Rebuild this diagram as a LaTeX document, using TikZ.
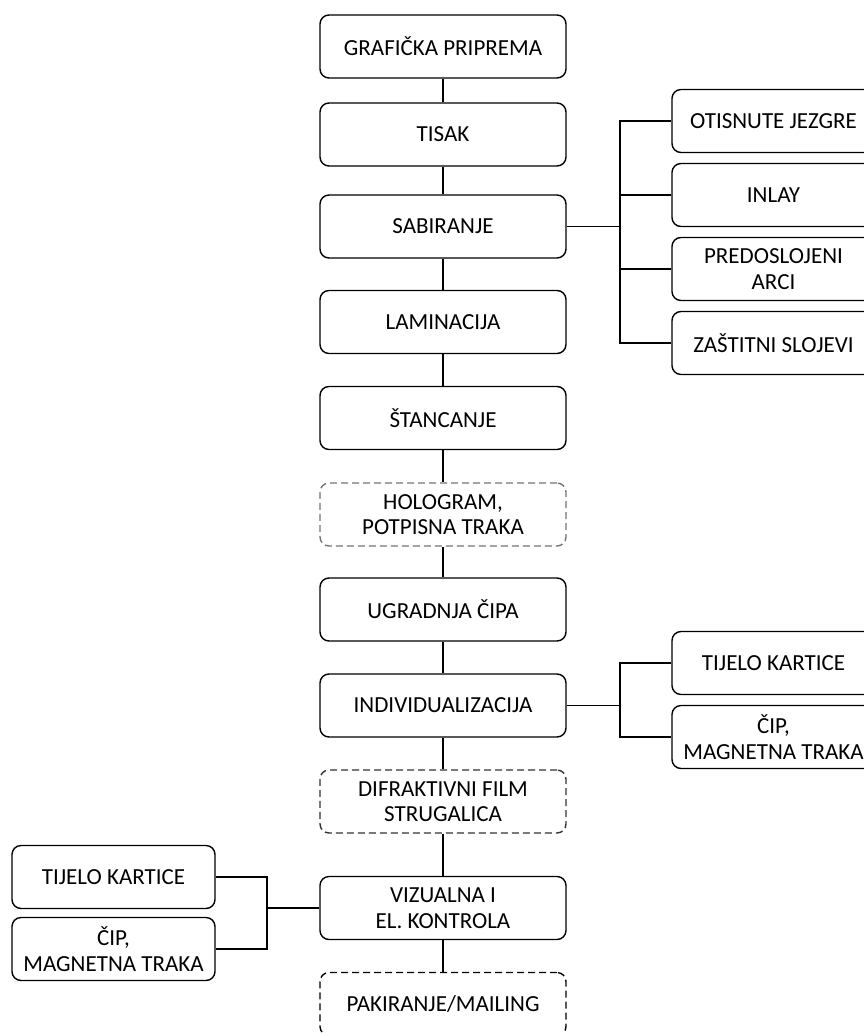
\documentclass[tikz,border=0pt]{standalone}
\usepackage{fontspec}
\setmainfont{Carlito}
\begin{document}
\begin{tikzpicture}[x=1pt,y=-1pt,
  box/.style={draw=black, line width=1.4pt, rounded corners=9pt, minimum width=246pt, minimum height=63pt, align=center, inner sep=0pt, font=\fontsize{23}{25.5}\selectfont, text=black},
  sidebox/.style={box, minimum width=203pt},
  dbox/.style={box, dash pattern=on 7pt off 4pt},
  link/.style={line width=1.4pt, draw=black}]
\useasboundingbox (0,0) rectangle (864,1033);
\clip (0,0) rectangle (864,1033);
% main column
\node[box] (gp) at (443,46.5) {GRAFIČKA PRIPREMA};
\node[box] (ti) at (443,134.5) {TISAK};
\node[box] (sa) at (443,226.5) {SABIRANJE};
\node[box] (la) at (443,322) {LAMINACIJA};
\node[box] (st) at (443,418) {ŠTANCANJE};
\node[dbox, draw=black!55] (ho) at (443,514.5) {HOLOGRAM,\\POTPISNA TRAKA};
\node[box] (ug) at (443,609.5) {UGRADNJA ČIPA};
\node[box] (in) at (443,705.5) {INDIVIDUALIZACIJA};
\node[dbox, draw=black!80] (di) at (443,801.5) {DIFRAKTIVNI FILM\\STRUGALICA};
\node[box] (vi) at (443,908) {VIZUALNA I\\EL. KONTROLA};
\node[dbox] (pa) at (443,1004) {PAKIRANJE/MAILING};
% right upper group
\node[sidebox] (ot) at (773.5,121) {OTISNUTE JEZGRE};
\node[sidebox] (il) at (773.5,195) {INLAY};
\node[sidebox] (pr) at (773.5,269) {PREDOSLOJENI\\ARCI};
\node[sidebox] (za) at (773.5,343) {ZAŠTITNI SLOJEVI};
% right lower group
\node[sidebox] (tk1) at (773.5,663) {TIJELO KARTICE};
\node[sidebox] (cp1) at (773.5,737) {ČIP,\\MAGNETNA TRAKA};
% left group
\node[sidebox] (tk2) at (113.5,877) {TIJELO KARTICE};
\node[sidebox] (cp2) at (113.5,949) {ČIP,\\MAGNETNA TRAKA};
% bracket positions
\coordinate (b1) at (620,0);
\coordinate (b2) at (620,0);
\coordinate (b3) at (267,0);
% main connectors
\draw[link] (gp) -- (ti);
\draw[link] (ti) -- (sa);
\draw[link] (sa) -- (la);
\draw[link] (la) -- (st);
\draw[link] (st) -- (ho);
\draw[link] (ho) -- (ug);
\draw[link] (ug) -- (in);
\draw[link] (in) -- (di);
\draw[link] (di) -- (vi);
\draw[link] (vi) -- (pa);
% upper bracket
\draw[link] (sa.east) -- (sa.east -| b1);
\draw[link] (ot.west) -- (ot.west -| b1) -- (za.west -| b1) -- (za.west);
\draw[link] (il.west) -- (il.west -| b1);
\draw[link] (pr.west) -- (pr.west -| b1);
% lower right bracket
\draw[link] (in.east) -- (in.east -| b2);
\draw[link] (tk1.west) -- (tk1.west -| b2) -- (cp1.west -| b2) -- (cp1.west);
% left bracket
\draw[link] (vi.west) -- (vi.west -| b3);
\draw[link] (tk2.east) -- (tk2.east -| b3) -- (cp2.east -| b3) -- (cp2.east);
\end{tikzpicture}
\end{document}
